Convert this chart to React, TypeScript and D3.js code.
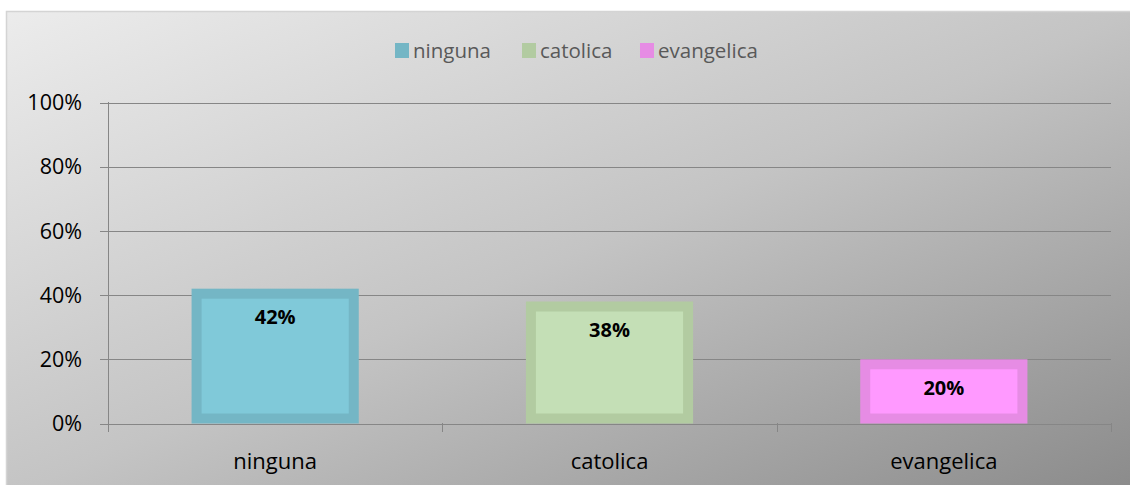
import React from "react";
import * as d3 from "d3";

const categories = ["ninguna", "catolica", "evangelica"];
const values = [0.42, 0.38, 0.2];
const valueLabels = ["42%", "38%", "20%"];
const yTicks = [0, 0.2, 0.4, 0.6, 0.8, 1.0];
const outerColors = ["#74b6c5", "#b2cba1", "#e68ce4"];
const innerColors = ["#80c9d9", "#c4dfb6", "#ff99ff"];

const W = 1130;
const H = 485;
const FONT = "'Open Sans', sans-serif";

export default function App() {
  const x = d3.scaleBand().domain(categories).range([108, 1111]).paddingInner(0.5).paddingOuter(0.25);
  const y = d3.scaleLinear().domain([0, 1]).range([423.5, 102.5]);
  const pct = d3.format(".0%");
  const bw = x.bandwidth();
  const step = x.step();
  const b = 10;
  const legendX = [395, 522, 640];

  return (
    <svg width={W} height={H} style={{ position: "absolute", left: 0, top: 0 }}>
      <defs>
        <linearGradient id="bg" x1="0" y1="0" x2="1" y2="1" gradientUnits="objectBoundingBox">
          <stop offset="0" stopColor="#ececec" />
          <stop offset="0.5" stopColor="#c4c4c4" />
          <stop offset="1" stopColor="#8a8a8a" />
        </linearGradient>
      </defs>
      <rect x={0} y={0} width={W} height={H} fill="#ffffff" />
      <rect x={6.5} y={11.5} width={W} height={H} fill="url(#bg)" stroke="#d4d4d4" strokeWidth={1.5} />
      {yTicks.map((t) => (
        <g key={t}>
          <line x1={100} x2={1111} y1={Math.round(y(t)) + 0.5} y2={Math.round(y(t)) + 0.5} stroke="#868686" strokeWidth={1} />
          <text x={82} y={y(t)} dy="0.36em" textAnchor="end" fontFamily={FONT} fontSize={21.5} fill="#000">
            {pct(t)}
          </text>
        </g>
      ))}
      <line x1={108.5} x2={108.5} y1={102} y2={424} stroke="#868686" />
      {[0, 1, 2, 3].map((i) => {
        const xx = Math.round(108 + i * step) + 0.5;
        return <line key={i} x1={xx} x2={xx} y1={423} y2={432} stroke="#868686" />;
      })}
      {categories.map((c, i) => {
        const x0 = x(c)!;
        const y0 = y(values[i]);
        const h = y(0) - y0;
        return (
          <g key={c}>
            <rect x={x0} y={y0} width={bw} height={h} fill={outerColors[i]} />
            <rect x={x0 + b} y={y0 + b} width={bw - 2 * b} height={Math.max(0, h - 2 * b)} fill={innerColors[i]} />
            <text x={x0 + bw / 2} y={y0 + 28} dy="0.36em" textAnchor="middle" fontFamily={FONT} fontWeight="bold" fontSize={20} fill="#000">
              {valueLabels[i]}
            </text>
            <text x={x0 + bw / 2} y={461} dy="0.36em" textAnchor="middle" fontFamily={FONT} fontSize={22} fill="#000">
              {c}
            </text>
          </g>
        );
      })}
      {categories.map((c, i) => {
        const lx = legendX[i];
        return (
          <g key={"lg" + c}>
            <rect x={lx} y={43} width={14} height={15} fill={outerColors[i]} />
            <text x={lx + 18} y={50.5} dy="0.36em" fontFamily={FONT} fontSize={20.5} fill="#595959">
              {c}
            </text>
          </g>
        );
      })}
    </svg>
  );
}
